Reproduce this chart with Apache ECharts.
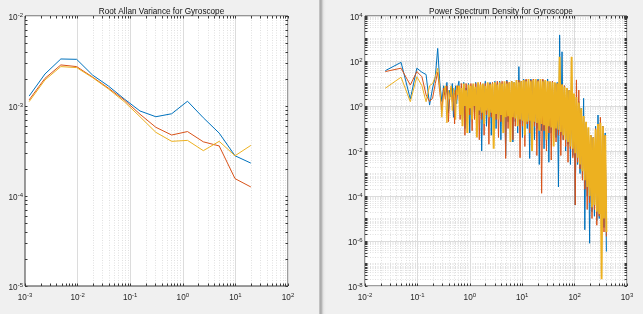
<!DOCTYPE html>
<html><head><meta charset="utf-8">
<script src="https://cdn.jsdelivr.net/npm/echarts@6/dist/echarts.min.js"></script>
<style>
html,body{margin:0;padding:0;background:#f0f0f0;}
#c{width:643px;height:314px;background:linear-gradient(to right,#f0f0f0 0,#f0f0f0 319px,#d2d2d2 319px,#b0b0b0 320px,#a8a8a8 321px,#c2c2c2 322px,#dedede 323px,#eaeaea 324px,#f0f0f0 326px);}
</style></head><body><div id="c"></div>
<script>
// ---------- Left: Root Allan Variance ----------
const allanTau = [0.0012, 0.0024, 0.0048, 0.0096, 0.0192, 0.0384, 0.0768, 0.1536, 0.3072, 0.6144, 1.2288, 2.4576, 4.9152, 9.8304, 19.6608];
const allanGyroX = [1.29e-3, 2.27e-3, 3.33e-3, 3.30e-3, 2.21e-3, 1.67e-3, 1.20e-3, 8.8e-4, 7.6e-4, 8.2e-4, 1.13e-3, 7.4e-4, 5.0e-4, 2.8e-4, 2.32e-4];
const allanGyroY = [1.17e-3, 2.03e-3, 2.86e-3, 2.74e-3, 2.10e-3, 1.58e-3, 1.17e-3, 8.1e-4, 5.8e-4, 4.76e-4, 5.2e-4, 4.0e-4, 3.6e-4, 1.56e-4, 1.26e-4];
const allanGyroZ = [1.12e-3, 1.95e-3, 2.74e-3, 2.67e-3, 2.07e-3, 1.55e-3, 1.12e-3, 7.6e-4, 5.1e-4, 4.05e-4, 4.15e-4, 3.19e-4, 4.05e-4, 2.8e-4, 3.65e-4];

// ---------- Right: PSD (log10 of the PSD value) ----------
const psdBinWidth = 0.0244;     // frequency bin spacing of the low part (Hz)
const psdLowBins = 24;
const psdDenseStart = 0.62;     // dense part: log-spaced bins
const psdDenseRatio = 1.0541;
const psdDenseBins = 124;
const psdFreq = [];
for (let k = 1; k <= psdLowBins; k++) psdFreq.push(k * psdBinWidth);
for (let i = 0; i < psdDenseBins; i++) psdFreq.push(psdDenseStart * Math.pow(psdDenseRatio, i));

const psdXLog10 = [
 1.57, 1.94, 0.31, 1.68, 1.5, 1.4, 0.04, 0.8, 1.3, 2.56, 1.0, 0.2, 0.9, 0.5, 1.05, -0.3, 0.7, 0.4, 1.0, -0.5, 0.6, 0.9, 0.1, 0.8,
 1.1, -0.2, 0.6, -0.7, 1.05, -1.0, 0.8, 0.1, 1.0,
 -1.2, 0.9, -0.5, 0.95, -0.3, 1.05, -0.8, 0.9, -0.4,
 1.0, -2.0, 0.95, -0.5, 1.1, -0.9, 0.9, -0.4, 1.05, -1.3, 0.95, -0.6, 1.1, -1.0, 1.0, -0.5,
 1.1, -1.5, 1.0, -0.6, 1.05, -2.2, 1.15, -0.7, 1.0, -0.9, 1.1, -1.6, 1.05, -0.7, 1.1, -1.2, 1.75,
 -0.8, 1.1, -1.4, 1.2, -0.9, 1.15, -1.0, 1.1, -2.33, 1.2, -0.9, 1.1, -1.5, 1.15, -1.0, 1.2, -2.6,
 1.1, -1.1, 1.15, -1.9, 1.1, -1.0, 1.2, -2.5, 1.05, -1.2, 1.1, -1.3, 1.0, -1.4, 1.05, -3.6,
 3.16, -1.3, 2.41, -1.5, 0.9, -2.0, 0.75, -1.7, 0.7, -2.6, 0.6, -2.2, 0.45,
 -4.4, 0.41, -2.6, 0.2, -3.0, -0.1, -3.2, 0.34, -5.5, -0.8, -4.0, -1.0,
 -6.1, -1.3, -4.7, -1.4, -4.9, -0.9, -5.1, -0.4, -5.0, -0.75, -5.3, -0.9, -5.4, -1.2, -6.47
];
const psdYLog10 = [
 1.53, 1.68, 0.93, 1.53, 1.3, 0.5, 0.2, 0.35, 1.0, 1.5, 0.6, -0.2, 0.8, 0.3, 0.9, -0.7, 0.5, 0.8, 0.2, 0.6, -0.8, 0.7, 0.3, 0.9,
 0.8, -0.6, 1.0, -0.2, 0.7, -1.3, 1.0, -0.5, 0.85,
 -0.4, 1.0, -1.1, 0.9, -0.6, 1.0, -0.3, 0.95, -1.5,
 1.05, -0.6, 0.9, -1.3, 1.0, -0.4, 0.95, -1.7, 1.0, -0.5, 1.05, -1.0, 0.95, -0.6, 1.1, -1.4,
 1.0, -0.7, 1.1, -0.8, 1.05, -2.33, 1.1, -1.0, 1.05, -0.8, 1.1, -1.5, 1.0, -0.9, 1.1, -0.7, 1.15,
 -2.3, 1.1, -0.9, 1.15, -1.8, 1.2, -0.8, 1.1, -1.2, 1.15, -1.6, 1.2, -0.9, 1.1, -2.2, 1.15, -1.0,
 1.1, -3.88, 1.2, -1.1, 1.05, -2.0, 1.1, -1.2, 1.0, -2.4, 1.1, -1.1, 1.0, -1.6, 1.0, -1.3,
 1.0, -2.2, 0.95, -1.5, 0.9, -1.8, 0.8, -2.5, 0.7, -1.9, 0.6, -2.3, 0.5,
 -4.4, 1.16, -2.5, 0.71, -2.8, -0.2, -3.3, -0.5, -3.7, -0.8, -4.6, -1.0,
 -4.3, -1.3, -5.0, -1.4, -4.6, -1.0, -5.3, -0.8, -4.9, -0.5, -5.2, -0.9, -5.6, -1.3, -5.8
];
const psdZLog10 = [
 0.79, 1.28, 0.19, 1.3, 0.9, 0.19, 0.9, 1.0, 1.3, 1.68, 0.8, -0.5, 0.6, 0.9, -0.75, 0.7, 0.3, 0.9, -0.2, 0.8, 0.4, -0.6, 0.9, 0.5,
 0.9, -0.4, 0.8, -0.9, 1.0, 0.0, 0.7, -1.2, 0.95,
 -0.1, 0.9, -0.6, 1.0, 0.0, 0.85, -1.4, 1.05, -0.2,
 0.95, -0.3, 1.0, -0.8, 0.9, -0.2, 1.05, -0.5, 0.95, -0.3, 1.0, -1.9, 1.05, -0.35, 0.95, -0.6,
 1.05, -0.4, 1.0, -1.2, 1.1, -0.5, 1.0, -0.45, 1.05, -1.6, 1.1, -0.5, 1.05, -0.55, 1.15, -0.9, 1.05,
 -0.6, 1.1, -0.65, 1.15, -1.3, 1.1, -0.7, 1.2, -0.65, 1.1, -2.0, 1.15, -0.7, 1.2, -0.75, 1.1, -1.1,
 1.2, -0.8, 1.1, -0.85, 1.15, -1.5, 1.1, -0.9, 1.1, -0.95, 1.05, -1.8, 1.05, -1.0, 1.0, -1.05,
 2.19, -1.15, 0.95, -1.3, 0.85, -1.5, 0.8, -1.6, 0.7, -1.8, 2.19, -1.9, 0.55,
 -2.1, 0.4, -2.3, 0.15, -2.6, -0.1, -2.9, -0.45, -3.3, -0.7, -3.6, -0.95,
 -4.0, -1.3, -4.5, -1.4, -4.4, -1.05, -4.7, -0.8, -4.8, -0.75, -7.7, -0.9, -5.0, -1.3, -5.6
];

// ---------- styling ----------
const C_BLUE = '#0072BD', C_ORANGE = '#D95319', C_YELLOW = '#EDB120';
const AX = '#3a3a3a', TXT = '#262626';
const FONT = 'Liberation Sans, Arial, sans-serif';
const MAJOR_GRID = {color: '#dcdcdc', width: 1, type: 'solid'};
const MINOR_GRID = {color: '#e0e0e0', width: 1, type: [1, 1.5]};

function decadeVals(e0, e1) { const o = []; for (let e = e0; e <= e1; e++) o.push(Math.pow(10, e)); return o; }
function minorVals(e0, e1) { const o = []; for (let e = e0; e <= e1; e++) for (let m = 2; m <= 9; m++) o.push(m * Math.pow(10, e)); return o; }
function minorLog(e0, e1) { const o = []; for (let e = e0; e <= e1; e++) for (let m = 2; m <= 9; m++) o.push(e + Math.log10(m)); return o; }

const rich = {
  b: {fontSize: 8.2, fontFamily: FONT, color: TXT, lineHeight: 9.5, verticalAlign: 'bottom', padding: [2.5, 0, 0, 0]},
  s: {fontSize: 6, fontFamily: FONT, color: TXT, lineHeight: 6.5, verticalAlign: 'top'}
};
const logFmt = v => '{b|10}{s|' + Math.round(Math.log10(v)) + '}';
const expFmt = v => '{b|10}{s|' + Math.round(v) + '}';

function tickCfg(vals) { return {show: true, inside: true, length: 2.5, lineStyle: {color: AX, width: 1}, customValues: vals}; }
const noLine = {show: false, onZero: false};

const lxTicks = decadeVals(-3, 2).concat(minorVals(-3, 1));
const lyTicks = decadeVals(-5, -2).concat(minorVals(-5, -3));
const rxTicks = decadeVals(-2, 3).concat(minorVals(-2, 2));
const ryTicks = [-8,-7,-6,-5,-4,-3,-2,-1,0,1,2,3,4].concat(minorLog(-8, 3));

function xAx(grid, min, max, pos, ticks, labels) {
  return {type: 'log', logBase: 10, gridIndex: grid, min, max, position: pos,
    axisLine: noLine, axisTick: tickCfg(ticks), splitLine: {show: false}, minorTick: {show: false},
    axisLabel: labels ? {show: true, formatter: logFmt, rich, margin: 6.5, hideOverlap: false, showMinLabel: true, showMaxLabel: true} : {show: false}};
}

const zip = (xs, ys) => xs.map((x, i) => [x, ys[i]]);
const psdYellow = zip(psdFreq, psdZLog10);

function gridSeries(xi, yi, majorX, minorX, majorY, minorY) {
  const data = [];
  minorX.forEach(v => data.push({xAxis: v, lineStyle: MINOR_GRID}));
  minorY.forEach(v => data.push({yAxis: v, lineStyle: MINOR_GRID}));
  majorX.forEach(v => data.push({xAxis: v, lineStyle: MAJOR_GRID}));
  majorY.forEach(v => data.push({yAxis: v, lineStyle: MAJOR_GRID}));
  return {type: 'line', xAxisIndex: xi, yAxisIndex: yi, data: [], z: 0, silent: true,
    markLine: {silent: true, z: 0, symbol: ['none', 'none'], label: {show: false}, animation: false, emphasis: {disabled: true}, data}};
}

function lineS(xi, yi, data, color, w) {
  return {type: 'line', xAxisIndex: xi, yAxisIndex: yi, data, showSymbol: false, symbol: 'none', z: 3,
    lineStyle: {color, width: w}, itemStyle: {color}, emphasis: {disabled: true}, silent: true};
}

const option = {
  animation: false,
  title: [
    {text: 'Root Allan Variance for Gyroscope', left: 156.5, top: 3, textAlign: 'center',
     textStyle: {fontSize: 8.2, fontWeight: 'normal', color: '#111', fontFamily: FONT}},
    {text: 'Power Spectrum Density for Gyroscope', left: 496, top: 3, textAlign: 'center',
     textStyle: {fontSize: 8.2, fontWeight: 'normal', color: '#111', fontFamily: FONT}}
  ],
  grid: [
    {left: 25, top: 16, width: 263, height: 270, show: true, backgroundColor: '#fff', borderColor: AX, borderWidth: 1},
    {left: 365, top: 16, width: 262, height: 270, show: true, backgroundColor: '#fff', borderColor: AX, borderWidth: 1}
  ],
  xAxis: [
    xAx(0, 1e-3, 1e2, 'bottom', lxTicks, true),
    xAx(0, 1e-3, 1e2, 'top', lxTicks, false),
    xAx(1, 1e-2, 1e3, 'bottom', rxTicks, true),
    xAx(1, 1e-2, 1e3, 'top', rxTicks, false)
  ],
  yAxis: [
    {type: 'log', logBase: 10, gridIndex: 0, min: 1e-5, max: 1e-2, position: 'left',
     axisLine: noLine, axisTick: tickCfg(lyTicks), splitLine: {show: false},
     axisLabel: {formatter: logFmt, rich, margin: 2, padding: [2, 0, 0, 0], showMinLabel: true, showMaxLabel: true}},
    {type: 'log', logBase: 10, gridIndex: 0, min: 1e-5, max: 1e-2, position: 'right',
     axisLine: noLine, axisTick: tickCfg(lyTicks), splitLine: {show: false}, axisLabel: {show: false}},
    {type: 'value', gridIndex: 1, min: -8, max: 4, interval: 2, position: 'left',
     axisLine: noLine, axisTick: tickCfg(ryTicks), splitLine: {show: false},
     axisLabel: {formatter: expFmt, rich, margin: 2.5, padding: [2, 0, 0, 0], showMinLabel: true, showMaxLabel: true}},
    {type: 'value', gridIndex: 1, min: -8, max: 4, interval: 2, position: 'right',
     axisLine: noLine, axisTick: tickCfg(ryTicks), splitLine: {show: false}, axisLabel: {show: false}}
  ],
  series: [
    gridSeries(0, 0, decadeVals(-3, 2), minorVals(-3, 1), decadeVals(-5, -2), minorVals(-5, -3)),
    lineS(0, 0, zip(allanTau, allanGyroX), C_BLUE, 1),
    lineS(0, 0, zip(allanTau, allanGyroY), C_ORANGE, 1),
    lineS(0, 0, zip(allanTau, allanGyroZ), C_YELLOW, 1),
    gridSeries(2, 2, decadeVals(-2, 3), minorVals(-2, 2), [-8, -6, -4, -2, 0, 2, 4], [-7, -5, -3, -1, 1, 3].concat(minorLog(-8, 3))),
    lineS(2, 2, zip(psdFreq, psdXLog10), C_BLUE, 1),
    lineS(2, 2, zip(psdFreq, psdYLog10), C_ORANGE, 1),
    // yellow drawn thin over the sparse low-frequency bins, thicker over the dense bins
    lineS(2, 2, psdYellow.slice(0, psdLowBins + 1), C_YELLOW, 1),
    lineS(2, 2, psdYellow.slice(psdLowBins), C_YELLOW, 1.9)
  ]
};
const chart = echarts.init(document.getElementById('c'), null, {renderer: 'canvas'});
chart.setOption(option);
</script></body></html>
